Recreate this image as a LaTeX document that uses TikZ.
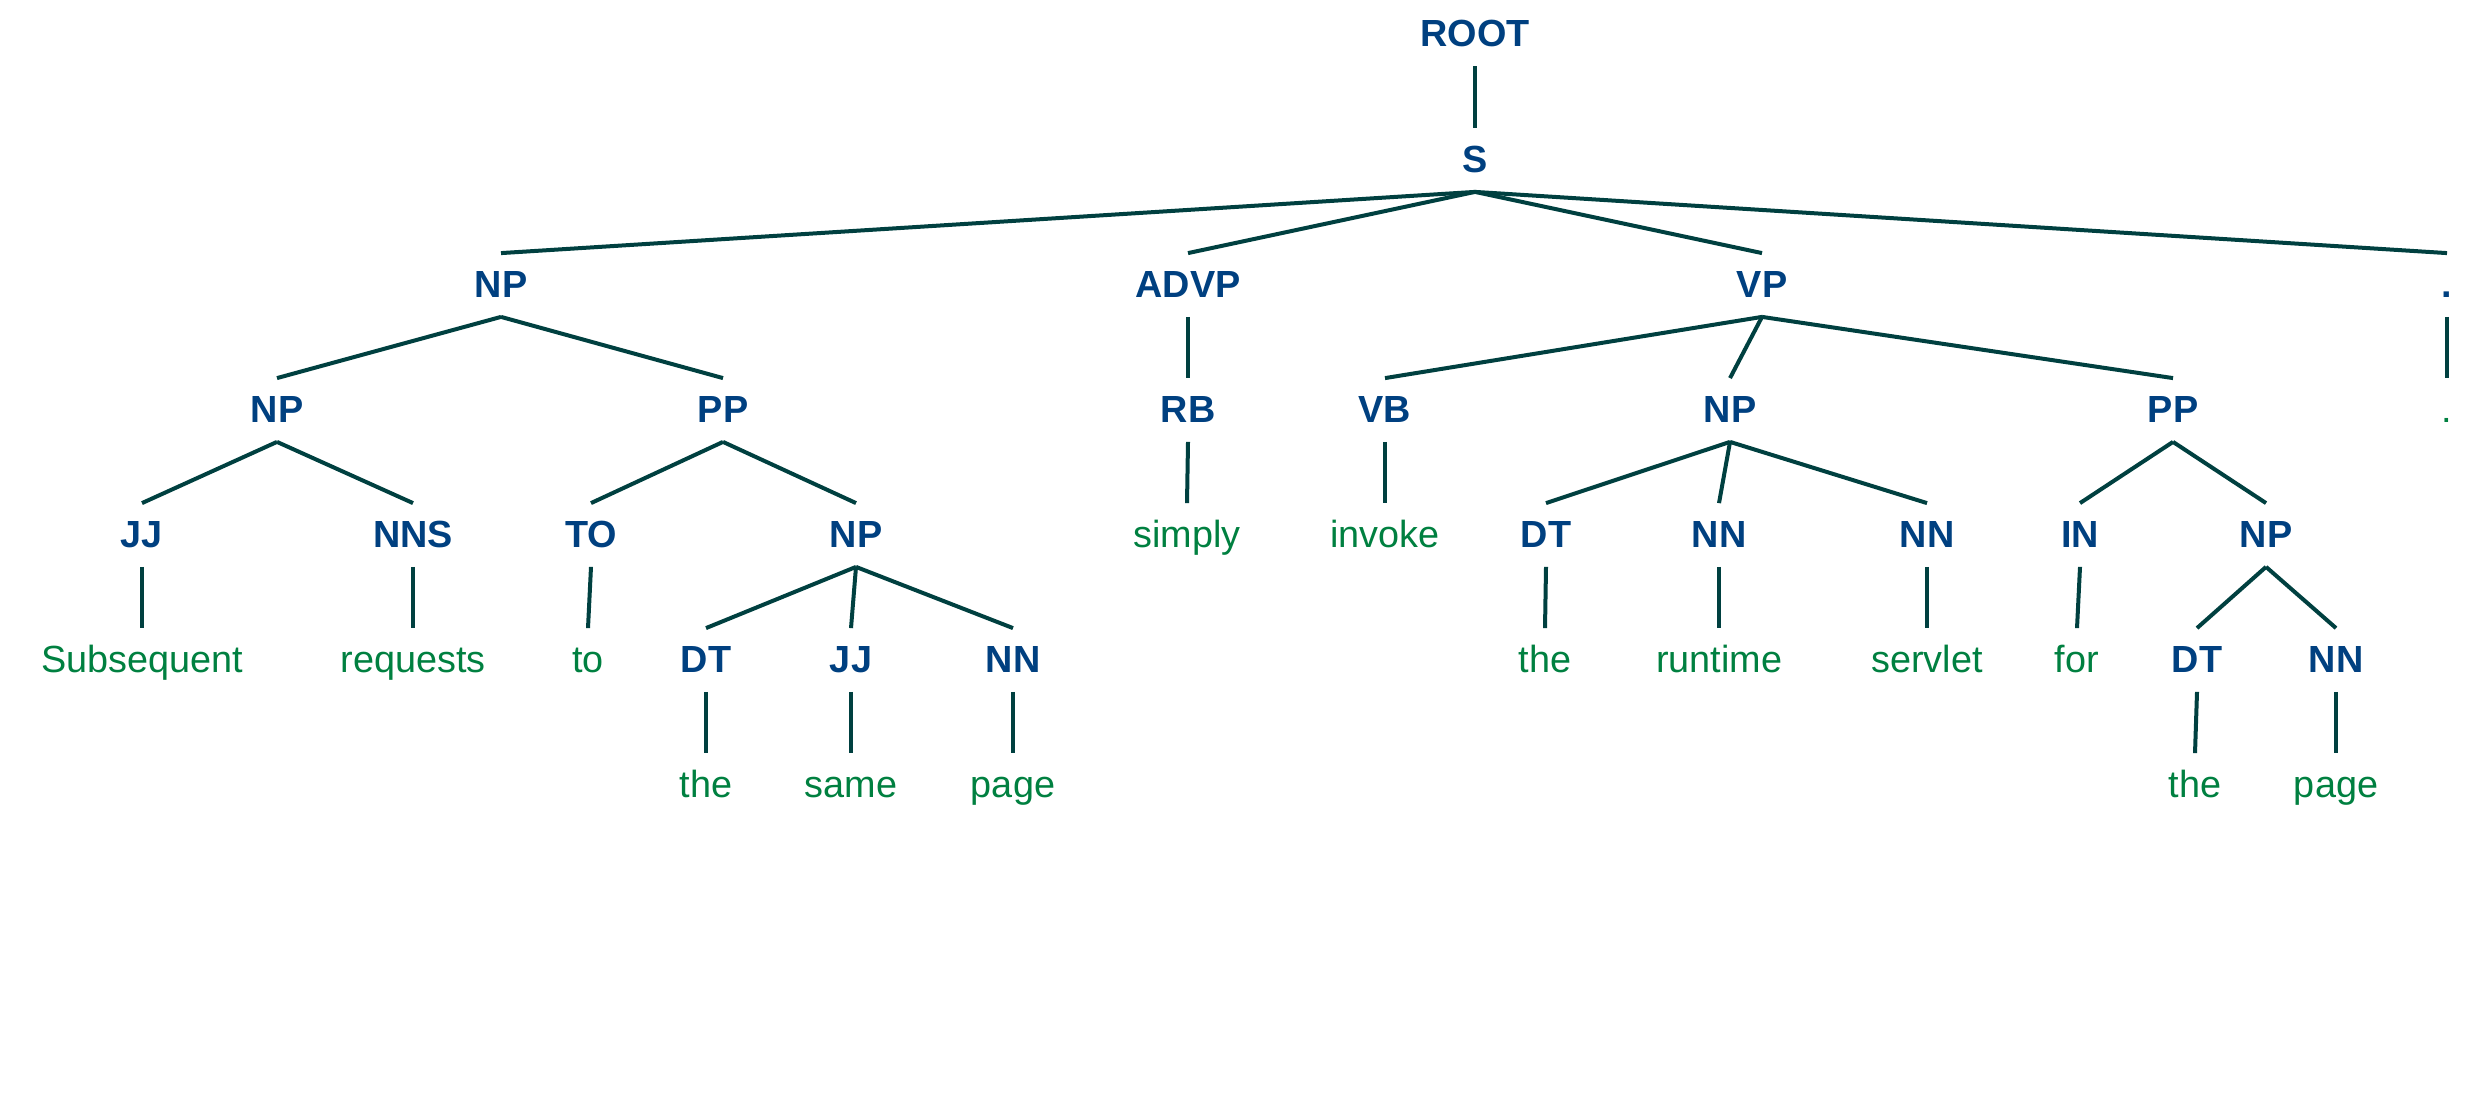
\documentclass[tikz,border=0pt]{standalone}
\usepackage{fontspec}
\setmainfont{Liberation Sans}
\definecolor{tagblue}{RGB}{0,64,128}
\definecolor{wordgreen}{RGB}{0,128,64}
\definecolor{edgecol}{RGB}{0,64,64}
\begin{document}
\begin{tikzpicture}[x=0.5pt,y=-0.5pt,
  base/.style={inner xsep=0pt,inner ysep=9.5pt,text height=13.5pt,text depth=0pt,anchor=center,font=\fontsize{18.9pt}{22pt}\selectfont},
  tag/.style={base,text=tagblue,font=\fontsize{18.9pt}{22pt}\selectfont\bfseries},
  word/.style={base,text=wordgreen},
  edge/.style={draw=edgecol,line width=2pt}]
\useasboundingbox (0,0) rectangle (2471,1117);
% level y: 33.5,159,284,409,534,659,784
\node[tag] (root) at (1475,33.5) {ROOT};
\node[tag] (s) at (1475,159) {S};
\node[tag] (np1) at (501,284) {NP};
\node[tag] (advp) at (1188,284) {ADVP};
\node[tag] (vp) at (1762,284) {VP};
\node[tag] (dot) at (2447,284) {.};
\node[tag] (np2) at (277,409) {NP};
\node[tag] (pp1) at (723,409) {PP};
\node[tag] (rb) at (1188,409) {RB};
\node[tag] (vb) at (1385,409) {VB};
\node[tag] (np3) at (1730,409) {NP};
\node[tag] (pp2) at (2173,409) {PP};
\node[word] (wdot) at (2447,409) {.};
\node[tag] (jj1) at (142,534) {JJ};
\node[tag] (nns) at (413,534) {NNS};
\node[tag] (to) at (591,534) {TO};
\node[tag] (np4) at (856,534) {NP};
\node[word] (simply) at (1187,534) {simply};
\node[word] (invoke) at (1385,534) {invoke};
\node[tag] (dt1) at (1546,534) {DT};
\node[tag] (nn1) at (1719,534) {NN};
\node[tag] (nn2) at (1927,534) {NN};
\node[tag] (in) at (2080,534) {IN};
\node[tag] (np5) at (2266,534) {NP};
\node[word] (subsequent) at (142,659) {Subsequent};
\node[word] (requests) at (413,659) {requests};
\node[word] (wto) at (588,659) {to};
\node[tag] (dt2) at (706,659) {DT};
\node[tag] (jj2) at (851,659) {JJ};
\node[tag] (nn3) at (1013,659) {NN};
\node[word] (the1) at (1545,659) {the};
\node[word] (runtime) at (1719,659) {runtime};
\node[word] (servlet) at (1927,659) {servlet};
\node[word] (for) at (2077,659) {for};
\node[tag] (dt3) at (2197,659) {DT};
\node[tag] (nn4) at (2336,659) {NN};
\node[word] (the2) at (706,784) {the};
\node[word] (same) at (851,784) {same};
\node[word] (page1) at (1013,784) {page};
\node[word] (the3) at (2195,784) {the};
\node[word] (page2) at (2336,784) {page};
\foreach \a/\b in {root/s, s/np1, s/advp, s/vp, s/dot, np1/np2, np1/pp1, advp/rb, vp/vb, vp/np3, vp/pp2, dot/wdot,
  np2/jj1, np2/nns, pp1/to, pp1/np4, rb/simply, vb/invoke, np3/dt1, np3/nn1, np3/nn2, pp2/in, pp2/np5,
  jj1/subsequent, nns/requests, to/wto, np4/dt2, np4/jj2, np4/nn3, dt1/the1, nn1/runtime, nn2/servlet, in/for, np5/dt3, np5/nn4,
  dt2/the2, jj2/same, nn3/page1, dt3/the3, nn4/page2}
  \draw[edge] (\a.south) -- ([yshift=-1pt]\b.north);
\end{tikzpicture}
\end{document}
